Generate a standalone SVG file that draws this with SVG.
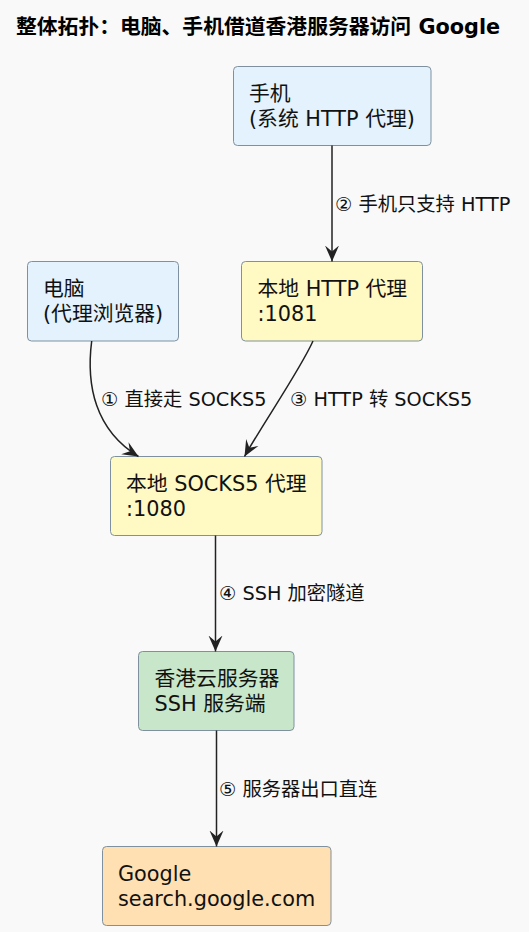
<svg xmlns="http://www.w3.org/2000/svg" width="529" height="932" viewBox="0 0 529 932">
  <style>
    .title { font-family: "DejaVu Sans", "Noto Sans CJK SC", sans-serif; font-size: 20.8px; font-weight: bold; fill: #000; }
    .node rect { stroke: #7f919e; stroke-width: 1; }
    .node text { font-family: "DejaVu Sans", "Noto Sans CJK SC", sans-serif; font-size: 20.8px; fill: #111; }
    .lbl { font-family: "DejaVu Sans", "Noto Sans CJK SC", sans-serif; font-size: 19.3px; fill: #111; }
    .edge { fill: none; stroke: #222; stroke-width: 1.5; }
    .client rect { fill: #E3F2FD; }
    .proxy rect { fill: #FFF9C4; }
    .server rect { fill: #C8E6C9; }
    .target rect { fill: #FFE0B2; }
  </style>
  <defs>
    <marker id="arrow" viewBox="0 0 16 15" refX="16" refY="7.5" markerWidth="16" markerHeight="15" markerUnits="userSpaceOnUse" orient="auto">
      <path d="M16,7.5 L0,0.5 L6,7.5 L0,14.5 Z" fill="#222"/>
    </marker>
  </defs>
  <rect x="0" y="0" width="529" height="932" fill="#F9F9F9"/>
  <text class="title" x="16" y="34">整体拓扑：电脑、手机借道香港服务器访问 Google</text>

  <g id="phone" class="node client">
    <rect x="233.5" y="66.5" width="197.5" height="79" rx="4"/>
    <text x="249" y="101">手机</text>
    <text x="249" y="125.5">(系统 HTTP 代理)</text>
  </g>
  <g id="pc" class="node client">
    <rect x="27.5" y="261.5" width="151" height="79.5" rx="4"/>
    <text x="43" y="296">电脑</text>
    <text x="43" y="320.5">(代理浏览器)</text>
  </g>
  <g id="http-proxy" class="node proxy">
    <rect x="241.5" y="261.5" width="181" height="79.5" rx="4"/>
    <text x="257.5" y="296">本地 HTTP 代理</text>
    <text x="257.5" y="320.5">:1081</text>
  </g>
  <g id="socks-proxy" class="node proxy">
    <rect x="110.5" y="456.5" width="211.5" height="79" rx="4"/>
    <text x="126" y="491">本地 SOCKS5 代理</text>
    <text x="126" y="515.5">:1080</text>
  </g>
  <g id="hk-server" class="node server">
    <rect x="138.5" y="651.5" width="155.5" height="79" rx="4"/>
    <text x="154.5" y="686">香港云服务器</text>
    <text x="154.5" y="710.5">SSH 服务端</text>
  </g>
  <g id="google" class="node target">
    <rect x="102.5" y="846.5" width="228.5" height="79" rx="4"/>
    <text x="118" y="881">Google</text>
    <text x="118" y="905.5">search.google.com</text>
  </g>

  <g id="connectors">
    <path class="edge" d="M332,145.5 L332,261.5" marker-end="url(#arrow)"/>
    <path class="edge" d="M91.7,341 C86,385 95,430 138.5,456.5" marker-end="url(#arrow)"/>
    <path class="edge" d="M313,341 C300,370 262,425 244.5,456.5" marker-end="url(#arrow)"/>
    <path class="edge" d="M215.5,535.5 L215.5,651.5" marker-end="url(#arrow)"/>
    <path class="edge" d="M216.5,730.5 L216.5,846.5" marker-end="url(#arrow)"/>
    <text class="lbl" x="335" y="210.5">② 手机只支持 HTTP</text>
    <text class="lbl" x="101" y="406">① 直接走 SOCKS5</text>
    <text class="lbl" x="290" y="406">③ HTTP 转 SOCKS5</text>
    <text class="lbl" x="219" y="599.5">④ SSH 加密隧道</text>
    <text class="lbl" x="219" y="796">⑤ 服务器出口直连</text>
  </g>
</svg>
